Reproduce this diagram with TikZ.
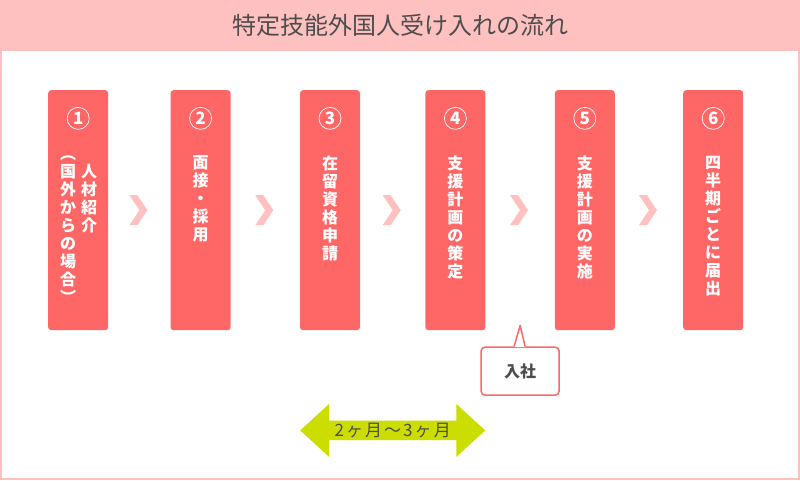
\documentclass[tikz,border=0pt]{standalone}
\usepackage{fontspec}
\setmainfont{Noto Sans CJK JP}
\usepackage{tikz}
\usetikzlibrary{shapes.arrows, positioning, calc}
\definecolor{flowRed}{HTML}{FF6666}
\definecolor{flowPink}{HTML}{FFC0C0}
\definecolor{flowLime}{HTML}{CCDD00}
\definecolor{flowText}{HTML}{4D4D4D}
\tikzset{
    stepbox/.style={rectangle, rounded corners=3pt, minimum width=60pt, minimum height=240pt,
        inner sep=0pt, fill=flowRed},
    numcircle/.style={circle, draw=white, line width=0.7pt, minimum size=22pt, inner sep=0pt,
        text=white, font=\fontsize{17}{17}\selectfont\bfseries},
    steptext/.style={align=center, inner sep=0pt, text=white, font=\fontsize{16}{18}\selectfont\bfseries},
    chevron/.style={fill=flowPink},
    calloutbox/.style={rectangle, rounded corners=4pt, minimum width=78pt, minimum height=48pt,
        draw=flowRed, line width=1.5pt, fill=white, text=flowText, font=\fontsize{16}{16}\selectfont\bfseries},
    spanarrow/.style={double arrow, double arrow head extend=13pt, double arrow head indent=0pt,
        double arrow tip angle=85, minimum height=185pt, minimum width=53pt, inner sep=0pt,
        fill=flowLime, text=flowText, font=\fontsize{17}{17}\selectfont\addfontfeature{LetterSpace=12}},
}

\begin{document}
\begin{tikzpicture}[x=1pt, y=-1pt]
    % frame and title band
    \fill[flowPink] (0,0) rectangle (800,480);
    \fill[white] (2,51) rectangle (798,478);
    \node[text=flowText, font=\fontsize{24}{24}\selectfont] (title) at (400,25) {特定技能外国人受け入れの流れ};

    % steps
    \node[stepbox, anchor=north west] (s1) at (48,90) {};
    \node[stepbox, right=62pt of s1] (s2) {};
    \node[stepbox, right=69pt of s2] (s3) {};
    \node[stepbox, right=65pt of s3] (s4) {};
    \node[stepbox, right=69pt of s4] (s5) {};
    \node[stepbox, right=68pt of s5] (s6) {};

    \foreach \i in {1,...,6}
        \node[numcircle, below=17pt of s\i.north] (n\i) {\i};

    \node[steptext, below=34pt of n1, xshift=11pt] (t1a) {人\\材\\紹\\介};
    \node[steptext, below=26pt of n1, xshift=-10pt] (t1b) {︵\\国\\外\\か\\ら\\の\\場\\合\\︶};
    \node[steptext, below=26pt of n2] (t2) {面\\接\\・\\採\\用};
    \node[steptext, below=26pt of n3] (t3) {在\\留\\資\\格\\申\\請};
    \node[steptext, below=26pt of n4] (t4) {支\\援\\計\\画\\の\\策\\定};
    \node[steptext, below=26pt of n5] (t5) {支\\援\\計\\画\\の\\実\\施};
    \node[steptext, below=26pt of n6] (t6) {四\\半\\期\\ご\\と\\に\\届\\出};

    % chevrons between steps
    \foreach \a/\b in {s1/s2, s2/s3, s3/s4, s4/s5, s5/s6} {
        \coordinate (m) at ($(\a.east)!0.5!(\b.west)$);
        \fill[chevron] ($(m)+(-10,-15)$) -- ++(8,0) -- ++(10,15) -- ++(-10,15) -- ++(-8,0) -- ++(10,-15) -- cycle;
    }

    % callout
    \coordinate (jointip) at ($(s4.south east)!0.5!(s5.south west)+(0,-5)$);
    \node[calloutbox, below=21pt of jointip] (join) {入社};
    \fill[white] ($(join.north)+(-6,0.8)$) -- (jointip) -- ($(join.north)+(5,0.8)$) -- cycle;
    \draw[flowRed, line width=1.5pt, line join=round] ($(join.north)+(-6,0)$) -- (jointip) -- ($(join.north)+(5,0)$);

    % span
    \node[spanarrow] (span) at ($(s3.south west)!0.5!(s4.south east)+(0,100)$) {2ヶ月〜3ヶ月};
\end{tikzpicture}
\end{document}
